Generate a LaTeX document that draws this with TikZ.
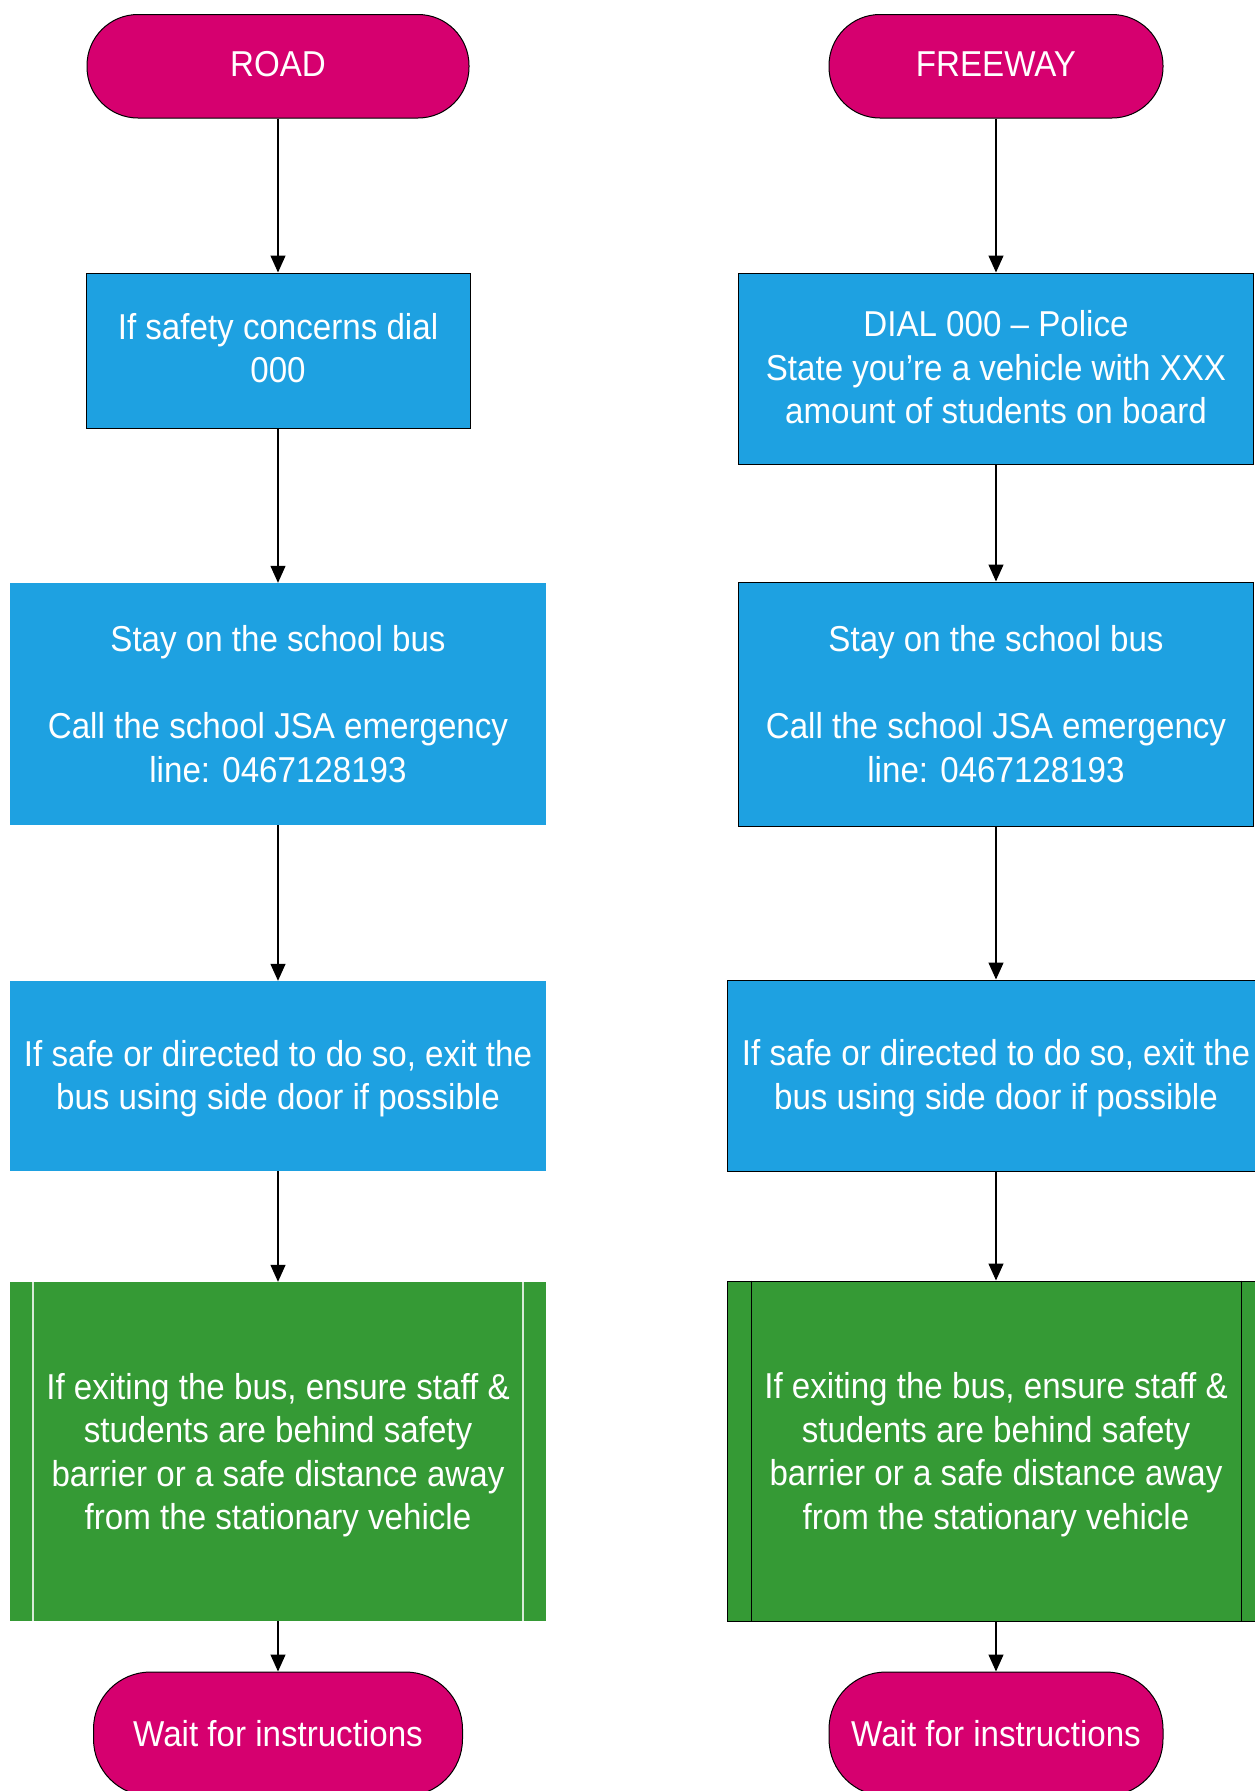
\documentclass[tikz,border=0pt]{standalone}
\usepackage{fontspec}
\setmainfont[FakeStretch=0.92]{Liberation Sans}
\usetikzlibrary{arrows.meta}
\definecolor{magentaT}{RGB}{214,0,111}
\definecolor{blueB}{RGB}{30,161,225}
\definecolor{greenG}{RGB}{53,154,53}
\definecolor{paleline}{RGB}{215,235,215}
\newcommand{\diagfont}{\fontsize{36pt}{43.5pt}\selectfont}
\newcommand{\dnstrut}[1]{\rule[-#1]{0pt}{#1}}
\newcommand{\upstrut}[1]{\rule{0pt}{#1}}
\tikzset{
  term/.style={draw=black, line width=1pt, fill=magentaT, rounded corners=51pt,
    inner sep=0pt, text=white, align=center, font=\diagfont},
  termb/.style={term, rounded corners=57pt},
  procL/.style={fill=blueB, inner sep=0pt, text=white, align=center, font=\diagfont},
  procR/.style={procL, draw=black, line width=1pt},
  grnL/.style={fill=greenG, inner sep=0pt, text=white, align=center, font=\diagfont},
  grnR/.style={grnL, draw=black, line width=1pt},
  arr/.style={draw=black, line width=1.3pt, -{Triangle[length=17pt,width=15pt]}},
}
\begin{document}
\begin{tikzpicture}[x=1pt,y=-1pt]
\useasboundingbox (0,0) rectangle (1255,1791);
\clip (0,0) rectangle (1255,1791);
\fill[white] (0,0) rectangle (1255,1791);

% left column (ROAD)
\node[term, minimum width=382pt, minimum height=103.5pt] (road) at (278,66.25) {ROAD\dnstrut{4.6pt}};
\node[procR, minimum width=384pt, minimum height=155pt] (l1) at (278,350.5) {If safety concerns dial\\000\dnstrut{4.6pt}};
\node[procL, minimum width=536pt, minimum height=242pt] (l2) at (278,704) {Stay on the school bus\\[43.5pt]Call the school JSA emergency\\line: 0467128193};
\node[procL, minimum width=536pt, minimum height=190pt] (l3) at (278,1076) {\upstrut{31pt}If safe or directed to do so, exit the\\bus using side door if possible};
\node[grnL, minimum width=536pt, minimum height=339pt] (lg) at (278,1451.5) {\upstrut{33pt}If exiting the bus, ensure staff \&\\students are behind safety\\barrier or a safe distance away\\from the stationary vehicle};
\draw[paleline, line width=1.5pt] ([xshift=23pt]lg.north west) -- ([xshift=23pt]lg.south west);
\draw[paleline, line width=1.5pt] ([xshift=-23pt]lg.north east) -- ([xshift=-23pt]lg.south east);
\node[termb, minimum width=369pt, minimum height=124pt] (lw) at (278,1734) {Wait for instructions};

% right column (FREEWAY)
\node[term, minimum width=334pt, minimum height=103.5pt] (fw) at (996,66.25) {FREEWAY\dnstrut{4.6pt}};
\node[procR, minimum width=515pt, minimum height=191pt] (r1) at (996,368.5) {DIAL 000 \textendash{} Police\\State you’re a vehicle with XXX\\amount of students on board\dnstrut{2.5pt}};
\node[procR, minimum width=515pt, minimum height=244pt] (r2) at (996,704) {Stay on the school bus\\[43.5pt]Call the school JSA emergency\\line: 0467128193};
\node[procR, minimum width=537pt, minimum height=191pt] (r3) at (996,1075.5) {\upstrut{31pt}If safe or directed to do so, exit the\\bus using side door if possible};
\node[grnR, minimum width=537pt, minimum height=340pt] (rg) at (996,1451) {\upstrut{33pt}If exiting the bus, ensure staff \&\\students are behind safety\\barrier or a safe distance away\\from the stationary vehicle};
\draw[black, line width=1pt] ([xshift=24pt]rg.north west) -- ([xshift=24pt]rg.south west);
\draw[black, line width=1pt] ([xshift=-24pt]rg.north east) -- ([xshift=-24pt]rg.south east);
\node[termb, minimum width=334pt, minimum height=124pt] (rw) at (996,1734) {Wait for instructions};

% connectors
\draw[arr] (road.south) -- (l1.north);
\draw[arr] (l1.south) -- (l2.north);
\draw[arr] (l2.south) -- (l3.north);
\draw[arr] (l3.south) -- (lg.north);
\draw[arr] (lg.south) -- (lw.north);
\draw[arr] (fw.south) -- (r1.north);
\draw[arr] (r1.south) -- (r2.north);
\draw[arr] (r2.south) -- (r3.north);
\draw[arr] (r3.south) -- (rg.north);
\draw[arr] (rg.south) -- (rw.north);
\end{tikzpicture}
\end{document}
